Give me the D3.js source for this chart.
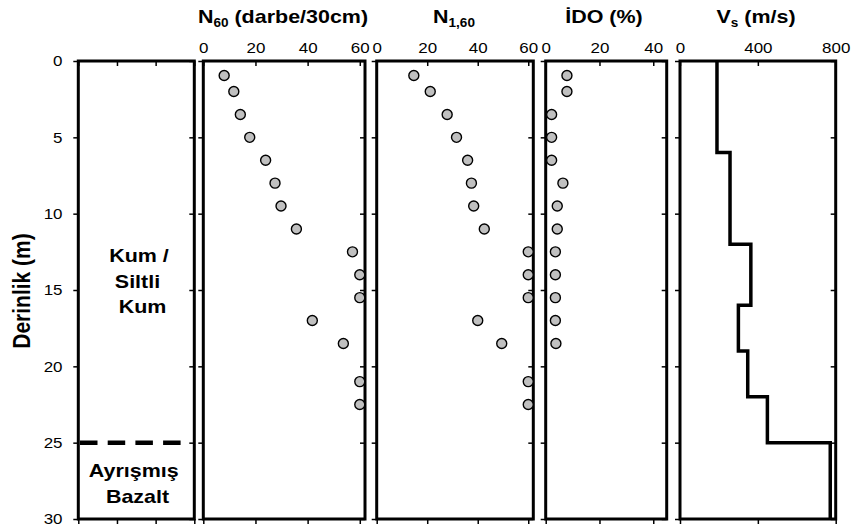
<!DOCTYPE html>
<html>
<head>
<meta charset="utf-8">
<script src="https://cdn.jsdelivr.net/npm/d3@7"></script>
<style>
  html, body { margin: 0; padding: 0; background: #fff; }
  svg { display: block; font-family: "Liberation Sans", Arial, sans-serif; }
</style>
</head>
<body>
<svg id="chart" width="852" height="529"></svg>
<script>
// ---------------- DATA ----------------
const depthTicks = [0, 5, 10, 15, 20, 25, 30];
const sptDepths = [0.95, 2.0, 3.5, 5.0, 6.5, 8.0, 9.5, 11.0, 12.5, 14.0, 15.5, 17.0, 18.5, 21.0, 22.5];
const n60Values = [8.0, 11.7, 14.2, 17.8, 23.9, 27.5, 29.8, 35.7, 57.2, 60, 60, 41.8, 53.7, 60, 60];
const n160Values = [14.7, 21.2, 27.9, 31.6, 36.0, 37.5, 38.4, 42.6, 60, 60, 60, 40.0, 49.5, 60, 60];
const idoDepths = [0.95, 2.0, 3.5, 5.0, 6.5, 8.0, 9.5, 11.0, 12.5, 14.0, 15.5, 17.0, 18.5];
const idoValues = [7.9, 7.9, 2.2, 2.2, 2.2, 6.4, 4.3, 4.3, 3.6, 3.6, 3.6, 3.6, 3.8];
const vsLayerTop = [0, 6, 12, 16, 19, 22, 25];
const vsLayerBottom = [6, 12, 16, 19, 22, 25, 30];
const vsValues = [190, 257, 364, 300, 348, 449, 772];
const n60Ticks = [0, 20, 40, 60];
const n160Ticks = [0, 20, 40, 60];
const idoTicks = [0, 20, 40];
const vsTicks = [0, 400, 800];
const lithoTicks = [0, 1, 2, 3];
const boundaryDepth = 25;

// ---------------- LAYOUT ----------------
const SX = 1.13; // horizontal text stretch of the original
const svg = d3.select("#chart");
const y = d3.scaleLinear().domain([0, 30]).range([61, 519]);

const panels = [
  { x0: 78.3,  x1: 194.3, domain: [0, 3],   ticks: lithoTicks, labels: false, yLabels: true },
  { x0: 203.3, x1: 365,   domain: [0, 62],  ticks: n60Ticks,   labels: true },
  { x0: 376.7, x1: 533.3, domain: [0, 62],  ticks: n160Ticks,  labels: true },
  { x0: 545.7, x1: 666.7, domain: [0, 45],  ticks: idoTicks,   labels: true },
  { x0: 680,   x1: 835.7, domain: [0, 800], ticks: vsTicks,    labels: true }
];
panels.forEach(p => { p.x = d3.scaleLinear().domain(p.domain).range([p.x0, p.x1]); });

function styleAxis(g, showText) {
  g.select(".domain").remove();
  g.selectAll(".tick line").attr("stroke", "#000").attr("stroke-width", 1.5);
  if (!showText) g.selectAll(".tick text").remove();
  else g.selectAll(".tick text")
        .attr("fill", "#000")
        .style("font-size", "15px")
        .style("font-family", '"Liberation Sans", Arial, sans-serif');
}

panels.forEach((p, i) => {
  // top axis with labels, ticks pointing inside
  const gt = svg.append("g").attr("transform", `translate(0,${y(0)})`)
    .call(d3.axisTop(p.x).tickValues(p.ticks).tickSizeInner(-5).tickSizeOuter(0).tickPadding(8));
  styleAxis(gt, p.labels);
  gt.selectAll(".tick text").attr("transform", `scale(${SX},1)`);

  // bottom axis: ticks outside, no labels
  const gb = svg.append("g").attr("transform", `translate(0,${y(30)})`)
    .call(d3.axisBottom(p.x).tickValues(p.ticks).tickSize(5).tickFormat(""));
  styleAxis(gb, false);

  // left axis, ticks outward
  const gl = svg.append("g").attr("transform", `translate(${p.x0},0)`)
    .call(d3.axisLeft(y).tickValues(depthTicks).tickSize(5).tickPadding(9));
  styleAxis(gl, !!p.yLabels);
  gl.selectAll(".tick text").attr("transform", `scale(${SX},1)`);

  // right axis, ticks pointing inward
  const gr = svg.append("g").attr("transform", `translate(${p.x1},0)`)
    .call(d3.axisLeft(y).tickValues(depthTicks).tickSize(5).tickFormat(""));
  styleAxis(gr, false);

  // frame
  svg.append("rect")
    .attr("x", p.x0).attr("y", y(0))
    .attr("width", p.x1 - p.x0).attr("height", y(30) - y(0))
    .attr("fill", "none").attr("stroke", "#000").attr("stroke-width", 3);
});

// ---------------- MARKS ----------------
function dots(panel, depths, values) {
  svg.append("g").selectAll("circle")
    .data(values.map((v, i) => ({ v, d: depths[i] })))
    .join("circle")
    .attr("cx", d => panel.x(d.v))
    .attr("cy", d => y(d.d))
    .attr("r", 5)
    .attr("fill", "#c0c0c0")
    .attr("stroke", "#000")
    .attr("stroke-width", 1.4);
}
dots(panels[1], sptDepths, n60Values);
dots(panels[2], sptDepths, n160Values);
dots(panels[3], idoDepths, idoValues);

// Vs step profile
const vsPts = [];
vsValues.forEach((v, i) => { vsPts.push([v, vsLayerTop[i]]); vsPts.push([v, vsLayerBottom[i]]); });
svg.append("path")
  .attr("d", d3.line().x(d => panels[4].x(d[0])).y(d => y(d[1]))(vsPts))
  .attr("fill", "none").attr("stroke", "#000").attr("stroke-width", 3.5)
  .attr("stroke-linejoin", "miter");

// lithology boundary
svg.append("line")
  .attr("x1", panels[0].x(0) + 1.7).attr("x2", panels[0].x(2.9))
  .attr("y1", y(boundaryDepth)).attr("y2", y(boundaryDepth))
  .attr("stroke", "#000").attr("stroke-width", 4.5)
  .attr("stroke-dasharray", "17.5,10.2");

// ---------------- TEXT ----------------
function label(x, yy, parts, size, rotate) {
  const g = svg.append("g")
    .attr("transform", `translate(${x},${yy}) scale(${SX},1)` + (rotate ? ` rotate(${rotate})` : ""));
  const t = g.append("text").attr("text-anchor", "middle")
    .attr("font-weight", "bold").attr("font-size", size).attr("fill", "#000");
  parts.forEach(pt => {
    const s = t.append("tspan").text(pt.t);
    if (pt.sub) s.attr("font-size", 12).attr("dy", 4.6);
    if (pt.after) s.attr("dy", -4.6);
  });
  return t;
}
label(283, 22.7, [{ t: "N" }, { t: "60", sub: true }, { t: " (darbe/30cm)", after: true }], 19);
label(454, 22.7, [{ t: "N" }, { t: "1,60", sub: true }], 19);
label(604, 22.7, [{ t: "İDO (%)" }], 19);
label(756, 22.7, [{ t: "V" }, { t: "s", sub: true }, { t: " (m/s)", after: true }], 19);

label(30, 291, [{ t: "Derinlik (m)" }], 21, -90);

label(139, 261.7, [{ t: "Kum /" }], 19);
label(137.5, 288.3, [{ t: "Siltli" }], 19);
label(142.5, 313.3, [{ t: "Kum" }], 19);
label(133.8, 477.3, [{ t: "Ayrışmış" }], 19);
label(137.5, 502.7, [{ t: "Bazalt" }], 19);
</script>
</body>
</html>
